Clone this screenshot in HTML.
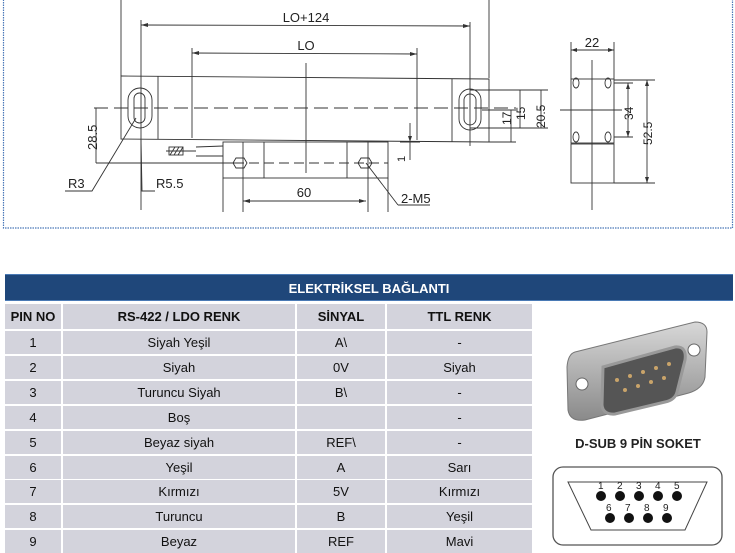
<!DOCTYPE html>
<html><head><meta charset="utf-8"><style>
body{margin:0;width:735px;height:552px;background:#fff;overflow:hidden;position:relative;font-family:"Liberation Sans",Arial,sans-serif}
.c{position:absolute;background:#d3d3dc;font-size:13px;color:#111;display:flex;align-items:center;justify-content:center}
.h{font-weight:bold}
</style></head><body>
<svg width="735" height="240" style="position:absolute;left:0;top:0" font-family="Liberation Sans, sans-serif">
<rect x="3.5" y="-2" width="729" height="230" fill="none" stroke="#4a78b8" stroke-dasharray="1.5 1" stroke-width="1.2"/>
<g stroke="#333" stroke-width="0.9" fill="none">
<!-- main body -->
<path d="M121 76 L489 79 L489 142 L121 139 Z"/>
<line x1="158" y1="76" x2="158" y2="139"/>
<line x1="452" y1="79" x2="452" y2="142"/>
<rect x="128" y="88" width="24" height="40" rx="12"/>
<rect x="134" y="93" width="11" height="30" rx="5.5"/>
<rect x="459" y="89" width="22" height="41" rx="11"/>
<rect x="464" y="94" width="12" height="31" rx="6"/>
<line x1="94" y1="108" x2="516" y2="108" stroke-dasharray="14 6"/>
<line x1="121" y1="0" x2="121" y2="76"/>
<line x1="489" y1="0" x2="489" y2="78"/>
<line x1="141" y1="20" x2="141" y2="210"/>
<line x1="470" y1="22" x2="470" y2="146"/>
<line x1="141" y1="25" x2="470" y2="26"/>
<line x1="192" y1="48" x2="192" y2="138"/>
<line x1="417" y1="48" x2="417" y2="140"/>
<line x1="192" y1="53" x2="417" y2="54"/>
<line x1="306" y1="63" x2="306" y2="173"/>
<!-- sensor head -->
<rect x="223" y="142" width="165" height="36"/>
<line x1="243" y1="142" x2="243" y2="212"/>
<line x1="264" y1="142" x2="264" y2="178"/>
<line x1="347" y1="142" x2="347" y2="178"/>
<line x1="368" y1="142" x2="368" y2="212"/>
<line x1="223" y1="178" x2="223" y2="212"/>
<line x1="388" y1="178" x2="388" y2="212"/>
<polygon points="236,158 244,158 247,163 244,168 236,168 233,163"/>
<polygon points="361,158 369,158 372,163 369,168 361,168 358,163"/>
<line x1="243" y1="201" x2="366" y2="201"/>
<line x1="196" y1="147" x2="223" y2="146"/>
<line x1="196" y1="156" x2="223" y2="156"/>
<line x1="166" y1="151" x2="196" y2="151"/>
<rect x="169" y="147" width="14" height="8"/>
<path d="M170 155 L175 147 M174 155 L179 147 M178 155 L183 147"/>
<!-- 28.5 -->
<line x1="96" y1="108" x2="96" y2="163"/>
<line x1="96" y1="163" x2="234" y2="163"/>
<line x1="234" y1="163" x2="388" y2="163" stroke-dasharray="10 5"/>
<!-- leaders -->
<path d="M65 191 L92 191 L136 118"/>
<path d="M155 191 L142 191 L141 140"/>
<path d="M398 205 L430 205 M398 205 L366 163"/>
<!-- 1 -->
<line x1="410" y1="123" x2="410" y2="160"/>
<line x1="400" y1="142" x2="420" y2="142"/>
<!-- right dims -->
<line x1="470" y1="90" x2="548" y2="90"/>
<line x1="470" y1="128" x2="548" y2="128"/>
<line x1="482" y1="110" x2="516" y2="110"/>
<line x1="489" y1="142" x2="516" y2="142"/>
<line x1="511" y1="110" x2="511" y2="142"/>
<line x1="520" y1="90" x2="520" y2="128"/>
<line x1="541" y1="90" x2="541" y2="128"/>
<!-- side view -->
<rect x="571" y="79" width="43" height="64"/>
<rect x="571" y="144" width="43" height="39"/>
<line x1="592" y1="60" x2="592" y2="210"/>
<line x1="560" y1="110" x2="622" y2="110"/>
<ellipse cx="576" cy="83" rx="3" ry="5"/><ellipse cx="608" cy="83" rx="3" ry="5"/>
<ellipse cx="576" cy="137" rx="3" ry="5"/><ellipse cx="608" cy="137" rx="3" ry="5"/>
<line x1="571" y1="42" x2="571" y2="79"/><line x1="614" y1="42" x2="614" y2="79"/>
<line x1="571" y1="50" x2="614" y2="50"/>
<line x1="614" y1="80" x2="655" y2="80"/><line x1="614" y1="183" x2="655" y2="183"/>
<line x1="614" y1="83" x2="633" y2="83"/><line x1="614" y1="137" x2="633" y2="137"/>
<line x1="628" y1="83" x2="628" y2="137"/>
<line x1="647" y1="80" x2="647" y2="183"/>
</g>
<g fill="#333" stroke="none">
<path d="M141 25 l7 -2 v4z M470 26 l-7 -2 v4z M192 53 l7 -2 v4z M417 54 l-7 -2 v4z M243 201 l7 -2 v4z M366 201 l-7 -2 v4z M571 50 l6 -2 v4z M614 50 l-6 -2 v4z M628 83 l-2 6 h4z M628 137 l-2 -6 h4z M647 80 l-2 6 h4z M647 183 l-2 -6 h4z M410 142 l-2 -6 h4z"/>
</g>
<g fill="#222" font-size="13">
<text x="306" y="22" text-anchor="middle">LO+124</text>
<text x="306" y="50" text-anchor="middle">LO</text>
<text x="304" y="197" text-anchor="middle">60</text>
<text x="68" y="188">R3</text>
<text x="156" y="188">R5.5</text>
<text x="401" y="203">2-M5</text>
<text x="592" y="47" text-anchor="middle">22</text>
<text transform="translate(97,150) rotate(-90)">28.5</text>
<text transform="translate(405,162) rotate(-90)" font-size="11">1</text>
<text transform="translate(511,125) rotate(-90)" font-size="12">17</text>
<text transform="translate(525,120) rotate(-90)" font-size="12">15</text>
<text transform="translate(545,128) rotate(-90)" font-size="12">20.5</text>
<text transform="translate(633,120) rotate(-90)" font-size="12">34</text>
<text transform="translate(652,145) rotate(-90)" font-size="12">52.5</text>
</g>
</svg>

<div style="position:absolute;left:5px;top:274px;width:728px;height:27px;background:#1f477a;border-top:1px solid #4a7ab5;border-bottom:1px solid #4a7ab5;color:#fff;font-weight:bold;font-size:13px;line-height:27px;text-align:center;box-sizing:border-box">ELEKTRİKSEL BAĞLANTI</div>

<div class="c h" style="left:5px;top:304px;width:56px;height:25px">PIN NO</div>
<div class="c h" style="left:63px;top:304px;width:232px;height:25px">RS-422 / LDO RENK</div>
<div class="c h" style="left:297px;top:304px;width:88px;height:25px">SİNYAL</div>
<div class="c h" style="left:387px;top:304px;width:145px;height:25px">TTL RENK</div>

<div id="rows"></div>
<script>
var d=[["1","Siyah Yeşil","A\\","-"],["2","Siyah","0V","Siyah"],["3","Turuncu Siyah","B\\","-"],["4","Boş","","-"],["5","Beyaz siyah","REF\\","-"],["6","Yeşil","A","Sarı"],["7","Kırmızı","5V","Kırmızı"],["8","Turuncu","B","Yeşil"],["9","Beyaz","REF","Mavi"]];
var L=[[5,56],[63,232],[297,88],[387,145]],h="";
d.forEach(function(r,i){var t=330+i*24.9+1;r.forEach(function(v,j){h+='<div class="c" style="left:'+L[j][0]+'px;top:'+t+'px;width:'+L[j][1]+'px;height:23px">'+v+'</div>';});});
document.getElementById("rows").innerHTML=h;
</script>

<svg width="200" height="250" style="position:absolute;left:535px;top:302px">
<defs><linearGradient id="g" x1="0" y1="0" x2="0" y2="1"><stop offset="0" stop-color="#d8d8d8"/><stop offset="1" stop-color="#8a8a8a"/></linearGradient></defs>
<path d="M40 50 L160 20 Q172 20 172 30 L170 75 Q168 88 150 92 L50 118 Q35 120 33 108 L32 65 Q33 52 40 50Z" fill="url(#g)" stroke="#777"/>
<circle cx="47" cy="82" r="6" fill="#fff" stroke="#666"/>
<circle cx="159" cy="48" r="6" fill="#fff" stroke="#666"/>
<path d="M68 65 L140 45 Q152 44 150 58 L142 90 Q140 98 130 100 L80 112 Q68 113 67 103Z" fill="#555" stroke="#999" stroke-width="3"/>
<g fill="#c9a46a"><circle cx="82" cy="78" r="2"/><circle cx="95" cy="74" r="2"/><circle cx="108" cy="70" r="2"/><circle cx="121" cy="66" r="2"/><circle cx="134" cy="62" r="2"/><circle cx="90" cy="88" r="2"/><circle cx="103" cy="84" r="2"/><circle cx="116" cy="80" r="2"/><circle cx="129" cy="76" r="2"/></g>
<text x="103" y="146" text-anchor="middle" font-family="Liberation Sans, sans-serif" font-weight="bold" font-size="13" fill="#222">D-SUB 9 PİN SOKET</text>
<rect x="18" y="165" width="169" height="78" rx="10" fill="#fff" stroke="#555" stroke-width="1.3"/>
<path d="M33 180 L172 180 L150 228 L56 228Z" fill="#fff" stroke="#444"/>
<g fill="#111"><circle cx="66" cy="194" r="5"/><circle cx="85" cy="194" r="5"/><circle cx="104" cy="194" r="5"/><circle cx="123" cy="194" r="5"/><circle cx="142" cy="194" r="5"/><circle cx="75" cy="216" r="5"/><circle cx="94" cy="216" r="5"/><circle cx="113" cy="216" r="5"/><circle cx="132" cy="216" r="5"/></g>
<g font-family="Liberation Sans, sans-serif" font-size="10" fill="#222"><text x="63" y="187">1</text><text x="82" y="187">2</text><text x="101" y="187">3</text><text x="120" y="187">4</text><text x="139" y="187">5</text><text x="71" y="209">6</text><text x="90" y="209">7</text><text x="109" y="209">8</text><text x="128" y="209">9</text></g>
</svg>
</body></html>
